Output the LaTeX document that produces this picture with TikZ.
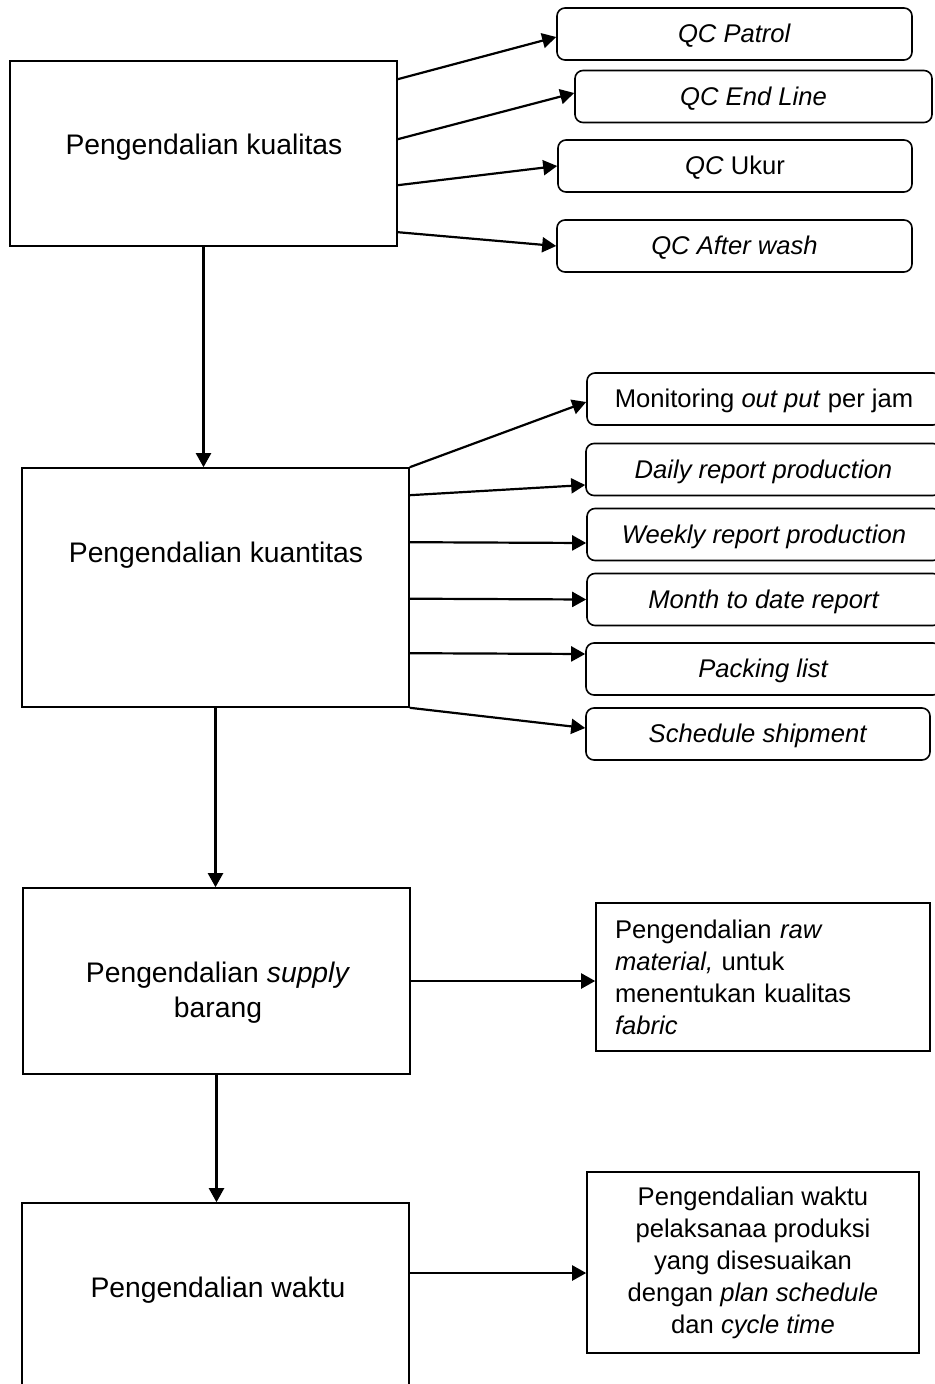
\documentclass[tikz,border=0pt]{standalone}
\usepackage{fontspec}
\setmainfont{Liberation Sans}
\usetikzlibrary{arrows.meta}

\begin{document}
\begin{tikzpicture}[x=0.5pt,y=-0.5pt,
		mainbox/.style={draw, line width=0.8pt, minimum width=193.5pt},
		maintext/.style={font=\fontsize{14.15}{17.5}\selectfont, align=center},
		subbox/.style={draw, line width=0.8pt, rounded corners=4pt, minimum height=26pt, text height=9.2pt, text depth=0.6pt, font=\fontsize{12.8}{15.5}\selectfont},
		notebox/.style={draw, line width=0.8pt, font=\fontsize{12.8}{16}\selectfont},
		arrow/.style={-{Triangle[length=7pt,width=7.5pt]}, line width=1.1pt}]
		\path[use as bounding box, fill=white] (0,0) rectangle (934,1384);
		
		\node[mainbox, minimum height=92.5pt] (kual) at (203.5,153.5) {};
		\node[maintext] (kualtext) at (204,147) {Pengendalian kualitas};
		
		\node[subbox, minimum width=177.5pt] (patrol) at (734.5,34) {\textit{QC Patrol}};
		\node[subbox, minimum width=178.5pt] (endline) at (753.5,96.5) {\textit{QC End Line}};
		\node[subbox, minimum width=177pt] (ukur) at (735,166) {\textit{QC} Ukur};
		\node[subbox, minimum width=177.5pt] (afterwash) at (734.5,246) {\textit{QC After wash}};
		
		\draw[arrow] ([yshift=-9.5pt]kual.north east) -- ([yshift=-1.5pt]patrol.west);
		\draw[arrow] ([yshift=-39.5pt]kual.north east) -- ([yshift=1.75pt]endline.west);
		\draw[arrow] ([yshift=-62.5pt]kual.north east) -- (ukur.west);
		\draw[arrow] ([yshift=-86pt]kual.north east) -- (afterwash.west);
		
		\node[mainbox, minimum height=119.5pt] (kuan) at (215.5,587.5) {};
		\node[maintext] (kuantext) at (216,555) {Pengendalian kuantitas};
		\draw[arrow] (kual.south) -- (kual.south |- kuan.north);
		
		\node[subbox, minimum width=177pt] (mon) at (764,399) {Monitoring \textit{out put} per jam};
		\node[subbox, minimum width=177.5pt] (daily) at (763.5,469.5) {\textit{Daily report production}};
		\node[subbox, minimum width=177pt] (weekly) at (764,534.5) {\textit{Weekly report production}};
		\node[subbox, minimum width=177pt] (month) at (764,599.5) {\textit{Month to date report}};
		\node[subbox, minimum width=177.5pt] (packing) at (763.5,669) {\textit{Packing list}};
		\node[subbox, minimum width=172pt] (schedule) at (758,734) {\textit{Schedule shipment}};
		
		\draw[arrow] (kuan.north east) -- ([yshift=-1.5pt]mon.west);
		\draw[arrow] ([yshift=-14pt]kuan.north east) -- ([yshift=-7.75pt]daily.west);
		\draw[arrow] ([yshift=-37.5pt]kuan.north east) -- ([yshift=-4.25pt]weekly.west);
		\draw[arrow] ([yshift=-65.75pt]kuan.north east) -- (month.west);
		\draw[arrow] ([yshift=-93pt]kuan.north east) -- ([yshift=7.5pt]packing.west);
		\draw[arrow] (kuan.south east) -- ([yshift=3pt]schedule.west);
		
		\node[mainbox, minimum height=93pt] (sup) at (216.5,981) {};
		\node[maintext] (suptext) at (218,992.5) {Pengendalian \textit{supply}\\barang};
		\draw[arrow] (kuan.south) -- (kuan.south |- sup.north);
		
		\node[notebox, minimum width=167pt, minimum height=74pt, text width=148pt, align=left] (raw) at (763,977) {Pengendalian \textit{raw}\\\textit{material,} untuk\\menentukan kualitas\\\textit{fabric}};
		\draw[arrow] (sup.east) -- (sup.east -| raw.west);
		
		\node[mainbox, minimum height=108.5pt] (waktu) at (215.5,1311.5) {};
		\node[maintext] (waktutext) at (218,1290) {Pengendalian waktu};
		\draw[arrow] (sup.south) -- (sup.south |- waktu.north);
		
		\node[notebox, minimum width=166pt, minimum height=90.5pt, align=center] (wnote) at (753,1262.5) {Pengendalian waktu\\pelaksanaa produksi\\yang disesuaikan\\dengan \textit{plan schedule}\\dan \textit{cycle time}};
		\coordinate (wt) at ([yshift=-5.25pt]wnote.west);
		\draw[arrow] (wt -| waktu.east) -- (wt);
	\end{tikzpicture}
\end{document}
